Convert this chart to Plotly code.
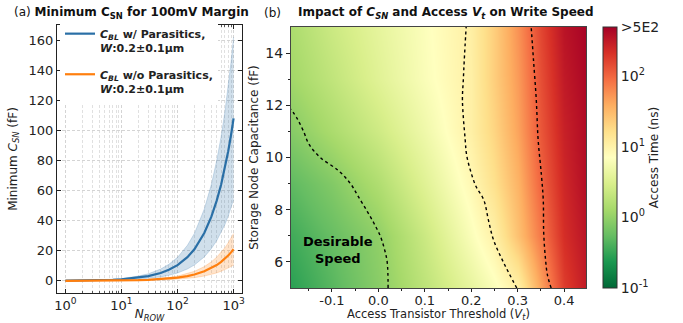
import plotly.graph_objects as go

# ---------------- Panel (a) data ----------------
n_row = [1, 2, 3, 5, 7, 10, 20, 30, 50, 70, 100, 150, 200, 300, 400, 500, 600, 700, 800, 900, 1000]
blue_mean = [0.1, 0.2, 0.3, 0.5, 0.7, 1.0, 2.1, 3.1, 5.2, 7.3, 10.4, 15.7, 21.0, 31.8, 42.5, 53.3, 64.0, 75.0, 86.0, 97.0, 108.0]
blue_upper = [0.15, 0.3, 0.45, 0.75, 1.05, 1.5, 3.15, 4.65, 7.8, 10.95, 15.6, 23.6, 31.5, 47.7, 63.8, 80.0, 96.0, 112.5, 129.0, 145.5, 162.0]
blue_lower = [0.05, 0.1, 0.15, 0.25, 0.35, 0.5, 1.05, 1.55, 2.6, 3.65, 5.2, 7.85, 10.5, 15.9, 21.3, 26.7, 32.0, 37.5, 43.0, 48.5, 54.0]
orange_mean = [0.02, 0.04, 0.06, 0.1, 0.14, 0.2, 0.42, 0.63, 1.05, 1.47, 2.1, 3.15, 4.2, 6.3, 8.4, 10.5, 12.6, 14.7, 16.8, 18.9, 21.0]
orange_upper = [0.03, 0.06, 0.09, 0.15, 0.21, 0.3, 0.63, 0.95, 1.6, 2.2, 3.15, 4.7, 6.3, 9.45, 12.6, 15.75, 18.9, 22.0, 25.2, 28.4, 31.5]
orange_lower = [0.01, 0.02, 0.03, 0.05, 0.07, 0.1, 0.21, 0.32, 0.53, 0.74, 1.05, 1.6, 2.1, 3.15, 4.2, 5.25, 6.3, 7.35, 8.4, 9.45, 10.5]
x_tickvals = [1, 10, 100, 1000]
x_ticktext = ["10<sup>0</sup>", "10<sup>1</sup>", "10<sup>2</sup>", "10<sup>3</sup>"]
x_minorvals = [2, 3, 4, 5, 6, 7, 8, 9, 20, 30, 40, 50, 60, 70, 80, 90, 200, 300, 400, 500, 600, 700, 800, 900]
y_tickvals_a = [0, 20, 40, 60, 80, 100, 120, 140, 160]

# ---------------- Panel (b) data ----------------
vt = [-0.19, -0.1, 0.0, 0.1, 0.2, 0.25, 0.3, 0.35, 0.4, 0.45]
csn = [5, 7, 9, 11, 13, 15]
# log10(access time in ns)
log_t = [
    [-0.56, -0.33, -0.06, 0.28, 0.62, 0.80, 1.03, 1.65, 2.25, 2.50],
    [-0.45, -0.25, -0.02, 0.38, 0.80, 1.02, 1.45, 1.90, 2.35, 2.55],
    [-0.30, -0.10, 0.18, 0.55, 0.93, 1.20, 1.55, 2.02, 2.40, 2.60],
    [-0.08, 0.15, 0.40, 0.70, 1.03, 1.30, 1.65, 2.10, 2.45, 2.62],
    [0.08, 0.30, 0.55, 0.80, 1.03, 1.35, 1.70, 2.15, 2.50, 2.65],
    [0.15, 0.38, 0.60, 0.82, 1.04, 1.35, 1.75, 2.20, 2.55, 2.68],
]
# contour lines (1 ns, 10 ns, 100 ns)
c1_vt = [0.021, 0.019, 0.013, 0.004, -0.010, -0.026, -0.043, -0.060, -0.086, -0.125, -0.149, -0.161, -0.175, -0.188]
c1_cs = [5.0, 6.0, 6.5, 7.0, 7.5, 8.0, 8.5, 9.0, 9.5, 10.0, 10.5, 11.0, 11.5, 11.85]
c2_vt = [0.298, 0.270, 0.248, 0.237, 0.227, 0.210, 0.198, 0.190, 0.187, 0.181, 0.183, 0.185, 0.189]
c2_cs = [5.0, 5.96, 6.84, 7.6, 8.37, 8.9, 9.52, 10.1, 10.67, 12.2, 13.0, 13.74, 15.0]
c3_vt = [0.372, 0.364, 0.360, 0.356, 0.355, 0.351, 0.344, 0.340, 0.334, 0.329]
c3_cs = [5.0, 5.5, 6.07, 7.1, 8.37, 9.33, 10.67, 12.2, 13.74, 15.0]
cb_tickvals = [-1, 0, 1, 2, 2.699]
cb_ticktext = ["10<sup>-1</sup>", "10<sup>0</sup>", "10<sup>1</sup>", "10<sup>2</sup>", ">5E2"]

rdylgn_r = ['rgb(0,104,55)', 'rgb(26,152,80)', 'rgb(102,189,99)', 'rgb(166,217,106)',
            'rgb(217,239,139)', 'rgb(255,255,191)', 'rgb(254,224,139)', 'rgb(253,174,97)',
            'rgb(244,109,67)', 'rgb(215,48,39)', 'rgb(165,0,38)']
colorscale = [[i / 10, c] for i, c in enumerate(rdylgn_r)]

FONT = "DejaVu Sans"
BLUE = "#2a6fa6"
ORANGE = "#ff7f0e"

fig = go.Figure()

def band(x, lo, hi, rgb):
    fig.add_trace(go.Scatter(x=x, y=hi, mode="lines", line=dict(width=0.6, color=f"rgba({rgb},0.35)"),
                             showlegend=False, hoverinfo="skip", xaxis="x", yaxis="y"))
    fig.add_trace(go.Scatter(x=x, y=lo, mode="lines", line=dict(width=0.6, color=f"rgba({rgb},0.35)"),
                             fill="tonexty", fillcolor=f"rgba({rgb},0.22)",
                             showlegend=False, hoverinfo="skip", xaxis="x", yaxis="y"))

band(n_row, blue_lower, blue_upper, "42,111,166")
fig.add_trace(go.Scatter(x=n_row, y=blue_mean, mode="lines", line=dict(color=BLUE, width=2.2),
                         name="<b><i>C<sub>BL</sub></i> w/ Parasitics,<br><i>W</i>:0.2±0.1μm</b>",
                         legendgroup="g1", xaxis="x", yaxis="y"))
band(n_row, orange_lower, orange_upper, "255,127,14")
fig.add_trace(go.Scatter(x=n_row, y=orange_mean, mode="lines", line=dict(color=ORANGE, width=2.2),
                         name="<b><i>C<sub>BL</sub></i> w/o Parasitics,<br><i>W</i>:0.2±0.1μm</b>",
                         legendgroup="g2", xaxis="x", yaxis="y"))

fig.add_trace(go.Heatmap(
    x=vt, y=csn, z=log_t, zsmooth="best", colorscale=colorscale, zmin=-1, zmax=2.699,
    xaxis="x2", yaxis="y2", showscale=True,
    colorbar=dict(x=603 / 683, xanchor="left", y=(323 - 288) / 323, yanchor="bottom",
                  len=(288 - 27) / 323, lenmode="fraction", thickness=14, thicknessmode="pixels",
                  xpad=0, ypad=0, outlinewidth=1, outlinecolor="#333",
                  tickvals=cb_tickvals, ticktext=cb_ticktext, ticks="",
                  tickfont=dict(family=FONT, size=14, color="#222"),
                  title=dict(text="Access Time (ns)", side="right",
                             font=dict(family=FONT, size=12, color="#222"))),
))
for cx, cy in [(c1_vt, c1_cs), (c2_vt, c2_cs), (c3_vt, c3_cs)]:
    fig.add_trace(go.Scatter(x=cx, y=cy, mode="lines", line=dict(color="black", width=1.4, dash="dot", shape="spline"),
                             showlegend=False, hoverinfo="skip", xaxis="x2", yaxis="y2"))

W, H = 683, 323
def px(x): return x / W
def py(y): return (H - y) / H

axis_common = dict(showline=True, linecolor="#222", linewidth=1.2, mirror="allticks",
                   ticks="inside", ticklen=4, tickcolor="#222", automargin=False,
                   tickfont=dict(family=FONT, size=13, color="#222"),
                   gridcolor="#d4d4d4", griddash="3px,2px", gridwidth=0.8, zeroline=False)

fig.update_layout(
    width=W, height=H, margin=dict(l=0, r=0, t=0, b=0, autoexpand=False),
    paper_bgcolor="white", plot_bgcolor="white",
    font=dict(family=FONT, color="#222"),
    xaxis=dict(type="log", range=[-0.15, 3.15], domain=[px(57), px(242)], anchor="y",
               tickvals=x_tickvals, ticktext=x_ticktext,
               minor=dict(tickvals=x_minorvals,
                          ticks="inside", ticklen=2, tickcolor="#555", showgrid=True,
                          gridcolor="#e0e0e0", griddash="3px,2px", gridwidth=0.7),
               title=dict(text="<i>N<sub>ROW</sub></i>", font=dict(family=FONT, size=12), standoff=2),
               **axis_common),
    yaxis=dict(range=[-8.1, 170.1], domain=[py(293), py(25)], anchor="x",
               tickvals=y_tickvals_a,
               title=dict(text="Minimum <i>C<sub>SN</sub></i> (fF)", font=dict(family=FONT, size=12), standoff=8),
               **axis_common),
    xaxis2=dict(range=[-0.188, 0.447], domain=[px(291), px(586)], anchor="y2", automargin=False,
                showline=True, linecolor="#444", linewidth=1, mirror=True,
                ticks="outside", ticklen=3, tickcolor="#222", ticklabelstandoff=-3,
                tickvals=[-0.1, 0.0, 0.1, 0.2, 0.3, 0.4], ticktext=["-0.1", "0.0", "0.1", "0.2", "0.3", "0.4"],
                minor=dict(tickvals=[-0.15, -0.05, 0.05, 0.15, 0.25, 0.35], ticks="outside", ticklen=2, tickcolor="#222"),
                tickfont=dict(family=FONT, size=13, color="#222"), showgrid=False, zeroline=False),
    yaxis2=dict(range=[5, 15], domain=[py(288), py(27)], anchor="x2", automargin=False,
                showline=True, linecolor="#444", linewidth=1, mirror=True,
                ticks="outside", ticklen=4, tickcolor="#222",
                tickvals=[6, 8, 10, 12, 14],
                minor=dict(tickvals=[7, 9, 11, 13], ticks="outside", ticklen=2, tickcolor="#222"),
                tickfont=dict(family=FONT, size=14, color="#222"), showgrid=False, zeroline=False,
                title=dict(text="Storage Node Capacitance (fF)", font=dict(family=FONT, size=12), standoff=4)),
    legend=dict(x=px(60), y=py(20), xanchor="left", yanchor="top", bgcolor="white",
                borderwidth=0, font=dict(family=FONT, size=11, color="#222"),
                valign="top", tracegroupgap=9, itemwidth=30),
    showlegend=True,
)

fig.add_annotation(text="Access Transistor Threshold (<i>V<sub>t</sub></i>)", xref="paper", yref="paper",
                   x=px(438), y=py(323), xanchor="center", yanchor="bottom", showarrow=False, borderpad=0,
                   font=dict(family=FONT, size=11.5, color="#222"))
fig.add_annotation(text="(a) <b>Minimum C<sub>SN</sub> for 100mV Margin</b>", xref="paper", yref="paper",
                   x=px(12), y=py(13), xanchor="left", yanchor="middle", showarrow=False,
                   font=dict(family=FONT, size=12, color="#111"))
fig.add_annotation(text="(b)", xref="paper", yref="paper", x=px(262), y=py(13), xanchor="left",
                   yanchor="middle", showarrow=False, font=dict(family=FONT, size=12, color="#111"))
fig.add_annotation(text="<b>Impact of <i>C<sub>SN</sub></i> and Access <i>V<sub>t</sub></i> on Write Speed</b>",
                   xref="paper", yref="paper", x=px(296), y=py(13), xanchor="left", yanchor="middle",
                   showarrow=False, font=dict(family=FONT, size=12, color="#111"))
fig.add_annotation(text="<b>Desirable<br>Speed</b>", xref="x2", yref="y2", x=-0.086, y=6.45,
                   showarrow=False, font=dict(family=FONT, size=13, color="black"), align="center")

fig.write_html("out.html")
